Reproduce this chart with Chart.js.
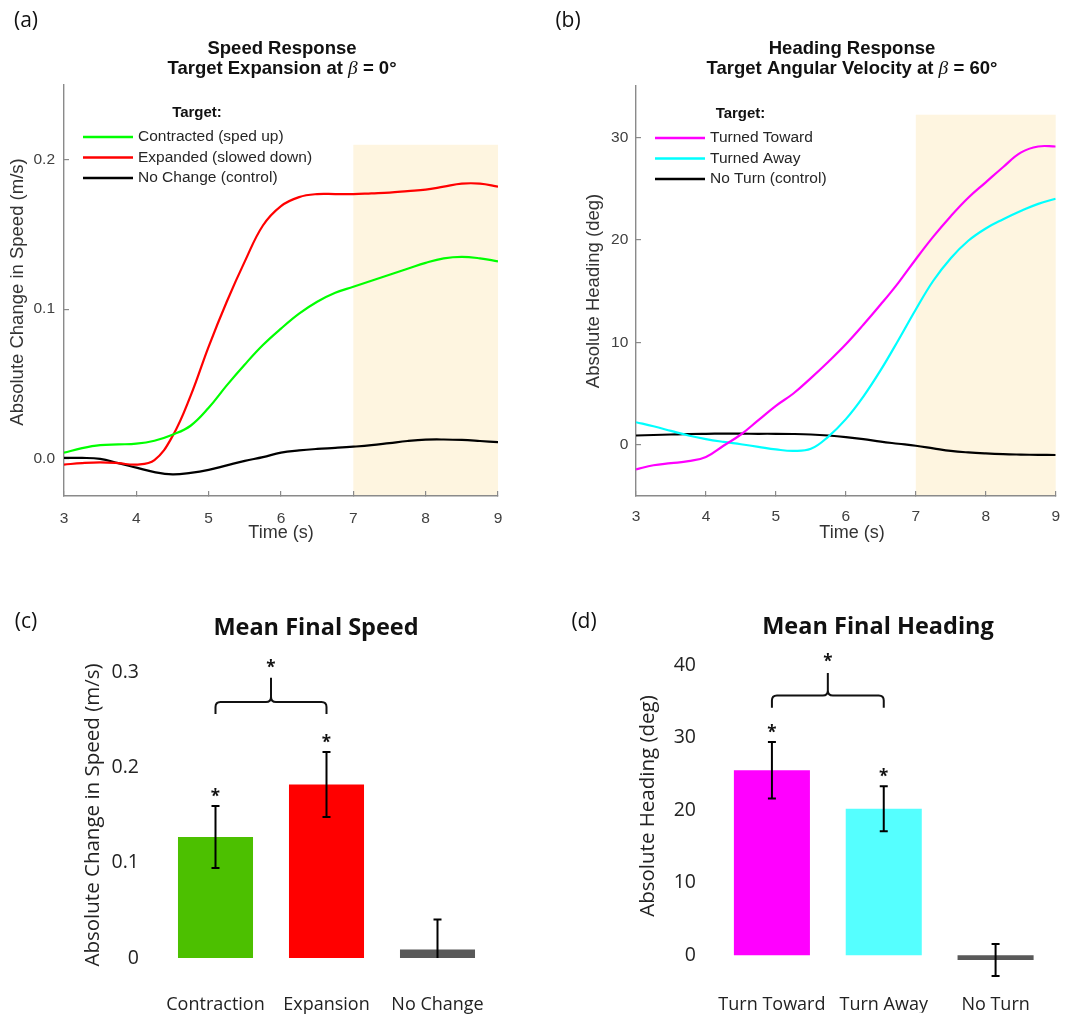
<!DOCTYPE html>
<html>
<head>
<meta charset="utf-8">
<script src="https://cdn.jsdelivr.net/npm/chart.js@4.4.1/dist/chart.umd.min.js"></script>
<style>
  html, body { margin: 0; padding: 0; background: #fff; }
  #wrap { position: relative; width: 1076px; height: 1016px; overflow: hidden; }
  canvas { position: absolute; }
</style>
</head>
<body>
<div id="wrap">
  <canvas id="chartA" width="538" height="545" style="left:0;top:0"></canvas>
  <canvas id="chartB" width="538" height="545" style="left:538px;top:0"></canvas>
  <canvas id="chartC" width="538" height="471" style="left:0;top:545px"></canvas>
  <canvas id="chartD" width="538" height="471" style="left:538px;top:545px"></canvas>
</div>
<script>
// ---------- DATA ----------
const timeS = [3, 3.25, 3.5, 3.75, 4, 4.25, 4.5, 4.75, 5, 5.25, 5.5, 5.75, 6, 6.25, 6.5, 6.75, 7, 7.25, 7.5, 7.75, 8, 8.25, 8.5, 8.75, 9];
const timeTicks = [3, 4, 5, 6, 7, 8, 9];

const speedNames = ["Contracted (sped up)", "Expanded (slowed down)", "No Change (control)"];
const speedContracted = [0.004, 0.007, 0.009, 0.0095, 0.010, 0.012, 0.016, 0.022, 0.034, 0.049, 0.063, 0.076, 0.087, 0.097, 0.105, 0.111, 0.115, 0.119, 0.123, 0.127, 0.131, 0.134, 0.135, 0.134, 0.132];
const speedExpanded = [-0.004, -0.003, -0.0025, -0.003, -0.004, -0.001, 0.015, 0.042, 0.075, 0.105, 0.132, 0.156, 0.169, 0.175, 0.177, 0.177, 0.177, 0.1775, 0.178, 0.179, 0.180, 0.182, 0.184, 0.184, 0.182];
const speedNoChange = [0.0005, 0.0005, -0.0002, -0.003, -0.006, -0.009, -0.0105, -0.0095, -0.0075, -0.0045, -0.0015, 0.001, 0.004, 0.0055, 0.0065, 0.0072, 0.008, 0.009, 0.0104, 0.0118, 0.0127, 0.0128, 0.0125, 0.0118, 0.011];
const speedTicks = [0, 0.1, 0.2];
const speedTickLabels = ["0.0", "0.1", "0.2"];

const headingNames = ["Turned Toward", "Turned Away", "No Turn (control)"];
const headingToward = [-2.4, -2.0, -1.8, -1.6, -1.2, -0.1, 1.0, 2.4, 3.8, 5.0, 6.5, 8.1, 9.8, 11.7, 13.7, 15.8, 18.1, 20.3, 22.3, 24.1, 25.6, 27.1, 28.5, 29.1, 29.1];
const headingAway = [2.2, 1.8, 1.35, 0.9, 0.55, 0.28, 0.05, -0.2, -0.45, -0.6, -0.4, 0.8, 2.5, 4.7, 7.3, 10.2, 13.2, 16.0, 18.2, 19.9, 21.1, 22.0, 22.8, 23.5, 24.0];
const headingNoTurn = [0.9, 0.95, 1.0, 1.05, 1.07, 1.08, 1.08, 1.07, 1.07, 1.05, 1.0, 0.9, 0.75, 0.55, 0.3, 0.1, -0.1, -0.35, -0.6, -0.75, -0.85, -0.92, -0.96, -0.99, -1.0];
const headingTicks = [0, 10, 20, 30];

// analysis window (shaded)
const windowStart = 7;
const windowEnd = 9;
const speedWindowTop = 0.21;
const headingWindowTop = 32.2;

const finalSpeedCats = ["Contraction", "Expansion", "No Change"];
const finalSpeedMeans = [0.127, 0.182, 0.009];
const finalSpeedErr = [0.0325, 0.034, 0.0315];
const finalSpeedTicks = [0, 0.1, 0.2, 0.3];
const finalSpeedTickLabels = ["0", "0.1", "0.2", "0.3"];

const finalHeadingCats = ["Turn Toward", "Turn Away", "No Turn"];
const finalHeadingMeans = [25.5, 20.2, -0.65];
const finalHeadingErr = [3.9, 3.1, 2.2];
const finalHeadingTicks = [0, 10, 20, 30, 40];

// significance brackets (value space)
const speedBracket = { from: 0, to: 1, leg: 0.256, line: 0.2686, peak: 0.294, star: 0.3075 };
const headingBracket = { from: 0, to: 1, leg: 34.1, line: 35.8, peak: 38.9, star: 40.8 };

// ---------- STYLE ----------
const SANS = '"Liberation Sans", Arial, sans-serif';
const SERIF = '"Liberation Serif", "Times New Roman", serif';
const OPEN = '"Open Sans", "Noto Sans", sans-serif';
const AXIS_GRAY = "#8a8a8a";

const pts = (xs, ys) => xs.map((x, i) => ({ x, y: ys[i] }));

function drawText(ctx, str, x, y, font, color, align = "center", rot = 0) {
  ctx.save();
  ctx.translate(x, y);
  ctx.rotate(rot);
  ctx.font = font;
  ctx.fillStyle = color;
  ctx.textAlign = align;
  ctx.textBaseline = "middle";
  ctx.fillText(str, 0, 0);
  ctx.restore();
}

// text made of several runs (for the italic beta)
function drawRuns(ctx, runs, cx, y, color) {
  ctx.save();
  ctx.textBaseline = "middle";
  ctx.fillStyle = color;
  let total = 0;
  runs.forEach(r => { ctx.font = r.font; total += ctx.measureText(r.text).width; });
  let x = cx - total / 2;
  runs.forEach(r => {
    ctx.font = r.font;
    ctx.textAlign = "left";
    ctx.fillText(r.text, x, y);
    x += ctx.measureText(r.text).width;
  });
  ctx.restore();
}

// ---------- PLUGINS ----------
const shadePlugin = {
  id: "shade",
  beforeDraw(chart, args, o) {
    const { ctx, scales: { x, y } } = chart;
    const x0 = x.getPixelForValue(o.from);
    const x1 = x.getPixelForValue(o.to);
    const y0 = y.getPixelForValue(o.top);
    ctx.save();
    ctx.fillStyle = "rgb(254,245,224)";
    ctx.fillRect(x0, y0, x1 - x0, y.bottom - y0);
    ctx.restore();
  }
};

const lineLegend = {
  id: "lineLegend",
  afterDraw(chart, args, o) {
    const { ctx, chartArea: a } = chart;
    drawText(ctx, "Target:", a.left + o.titleX, a.top + 28, `bold 15px ${SANS}`, "#111");
    chart.data.datasets.forEach((ds, i) => {
      const y = a.top + 52 + i * 20.5;
      ctx.save();
      ctx.strokeStyle = ds.borderColor;
      ctx.lineWidth = 2.5;
      ctx.beginPath();
      ctx.moveTo(a.left + 19, y);
      ctx.lineTo(a.left + 69, y);
      ctx.stroke();
      ctx.restore();
      drawText(ctx, ds.label, a.left + 74, y, `15.5px ${SANS}`, "#262626", "left");
    });
  }
};

const errorBars = {
  id: "errorBars",
  afterDatasetsDraw(chart, args, o) {
    const { ctx, chartArea: a, scales: { y } } = chart;
    const meta = chart.getDatasetMeta(0);
    const vals = chart.data.datasets[0].data;
    ctx.save();
    ctx.beginPath();
    ctx.rect(0, 0, chart.width, a.bottom);
    ctx.clip();
    ctx.strokeStyle = "#000";
    ctx.lineWidth = 2;
    meta.data.forEach((bar, i) => {
      const hi = y.getPixelForValue(vals[i] + o.err[i]);
      const lo = y.getPixelForValue(vals[i] - o.err[i]);
      ctx.beginPath();
      ctx.moveTo(bar.x, hi); ctx.lineTo(bar.x, lo);
      ctx.moveTo(bar.x - 4, hi); ctx.lineTo(bar.x + 4, hi);
      ctx.moveTo(bar.x - 4, lo); ctx.lineTo(bar.x + 4, lo);
      ctx.stroke();
    });
    ctx.restore();

    const starFont = `bold 17px ${OPEN}`;
    o.stars.forEach(i => {
      const hi = y.getPixelForValue(vals[i] + o.err[i]);
      drawText(ctx, "*", meta.data[i].x, hi - 9, starFont, "#111");
    });

    const b = o.bracket;
    const x0 = meta.data[b.from].x, x1 = meta.data[b.to].x, xm = (x0 + x1) / 2;
    const yl = y.getPixelForValue(b.line), yg = y.getPixelForValue(b.leg), yp = y.getPixelForValue(b.peak);
    const r = 5;
    ctx.save();
    ctx.strokeStyle = "#111";
    ctx.lineWidth = 2;
    ctx.beginPath();
    ctx.moveTo(x0, yg);
    ctx.lineTo(x0, yl + r);
    ctx.quadraticCurveTo(x0, yl, x0 + r, yl);
    ctx.lineTo(xm - r, yl);
    ctx.quadraticCurveTo(xm, yl, xm, yl - r);
    ctx.lineTo(xm, yp);
    ctx.moveTo(xm, yl - r);
    ctx.quadraticCurveTo(xm, yl, xm + r, yl);
    ctx.lineTo(x1 - r, yl);
    ctx.quadraticCurveTo(x1, yl, x1, yl + r);
    ctx.lineTo(x1, yg);
    ctx.stroke();
    ctx.restore();
    drawText(ctx, "*", xm, y.getPixelForValue(b.star) + 3, starFont, "#111");
  }
};

// static labels: titles, axis titles, panel letters
const overlay = {
  id: "overlay",
  afterDraw(chart, args, o) {
    const { ctx } = chart;
    o.texts.forEach(t => {
      if (t.runs) drawRuns(ctx, t.runs, t.x, t.y, t.color || "#111");
      else drawText(ctx, t.text, t.x, t.y, t.font, t.color || "#111", t.align || "center", t.rot || 0);
    });
  }
};

function timeAxis(padding) {
  return {
    type: "linear", min: 3, max: 9,
    afterBuildTicks: s => { s.ticks = timeTicks.map(v => ({ value: v })); },
    afterFit: s => { s.height = 49; },
    grid: { drawOnChartArea: false, tickLength: -5, color: AXIS_GRAY, lineWidth: 1.2 },
    border: { color: AXIS_GRAY, width: 1.4 },
    ticks: { padding, maxRotation: 0, font: { family: SANS, size: 15.5 }, color: "#404040" }
  };
}

const lineBase = {
  responsive: false,
  animation: false,
  elements: { point: { radius: 0 }, line: { borderWidth: 2.2, tension: 0.4 } },
  events: []
};

// ---------- (a) SPEED RESPONSE ----------
new Chart(document.getElementById("chartA"), {
  type: "line",
  data: {
    datasets: [
      { label: speedNames[0], data: pts(timeS, speedContracted), borderColor: "#00ff00" },
      { label: speedNames[1], data: pts(timeS, speedExpanded), borderColor: "#ff0000" },
      { label: speedNames[2], data: pts(timeS, speedNoChange), borderColor: "#000000" }
    ]
  },
  options: {
    ...lineBase,
    layout: { padding: { left: 0, top: 85, right: 40, bottom: 0 } },
    plugins: {
      legend: { display: false },
      tooltip: { enabled: false },
      shade: { from: windowStart, to: windowEnd, top: speedWindowTop },
      lineLegend: { titleX: 133 },
      overlay: {
        texts: [
          { text: "(a)", x: 26, y: 21, font: `21px ${OPEN}` },
          { text: "Speed Response", x: 282, y: 49, font: `bold 18.5px ${SANS}` },
          { runs: [
              { text: "Target Expansion at ", font: `bold 18.5px ${SANS}` },
              { text: "β", font: `italic 19.5px ${SERIF}` },
              { text: " = 0°", font: `bold 18.5px ${SANS}` }
            ], x: 282, y: 69 },
          { text: "Absolute Change in Speed (m/s)", x: 18, y: 292, font: `18.5px ${SANS}`, color: "#333", rot: -Math.PI / 2 },
          { text: "Time (s)", x: 281, y: 533, font: `18px ${SANS}`, color: "#333" }
        ]
      }
    },
    scales: {
      x: timeAxis(18),
      y: {
        min: -0.025, max: 0.25,
        afterBuildTicks: s => { s.ticks = speedTicks.map(v => ({ value: v })); },
        afterFit: s => { s.width = 64; },
        grid: { drawOnChartArea: false, tickLength: -5, color: AXIS_GRAY, lineWidth: 1.2 },
        border: { color: AXIS_GRAY, width: 1.4 },
        ticks: { padding: 14, font: { family: SANS, size: 15.5 }, color: "#404040",
                 callback: (v, i) => speedTickLabels[i] }
      }
    }
  },
  plugins: [shadePlugin, lineLegend, overlay]
});

// ---------- (b) HEADING RESPONSE ----------
new Chart(document.getElementById("chartB"), {
  type: "line",
  data: {
    datasets: [
      { label: headingNames[0], data: pts(timeS, headingToward), borderColor: "#ff00ff" },
      { label: headingNames[1], data: pts(timeS, headingAway), borderColor: "#00ffff" },
      { label: headingNames[2], data: pts(timeS, headingNoTurn), borderColor: "#000000" }
    ]
  },
  options: {
    ...lineBase,
    layout: { padding: { left: 0, top: 86, right: 8, bottom: 0 } },
    plugins: {
      legend: { display: false },
      tooltip: { enabled: false },
      shade: { from: windowStart, to: windowEnd, top: headingWindowTop },
      lineLegend: { titleX: 104.5 },
      overlay: {
        texts: [
          { text: "(b)", x: 30, y: 21, font: `21px ${OPEN}` },
          { text: "Heading Response", x: 314, y: 49, font: `bold 18.5px ${SANS}` },
          { runs: [
              { text: "Target Angular Velocity at ", font: `bold 18.5px ${SANS}` },
              { text: "β", font: `italic 19.5px ${SERIF}` },
              { text: " = 60°", font: `bold 18.5px ${SANS}` }
            ], x: 314, y: 69 },
          { text: "Absolute Heading (deg)", x: 56, y: 291, font: `18.5px ${SANS}`, color: "#333", rot: -Math.PI / 2 },
          { text: "Time (s)", x: 314, y: 533, font: `18px ${SANS}`, color: "#333" }
        ]
      }
    },
    scales: {
      x: timeAxis(16),
      y: {
        min: -5, max: 35,
        afterBuildTicks: s => { s.ticks = headingTicks.map(v => ({ value: v })); },
        afterFit: s => { s.width = 98; },
        grid: { drawOnChartArea: false, tickLength: -5, color: AXIS_GRAY, lineWidth: 1.2 },
        border: { color: AXIS_GRAY, width: 1.4 },
        ticks: { padding: 12.7, font: { family: SANS, size: 15.5 }, color: "#404040" }
      }
    }
  },
  plugins: [shadePlugin, lineLegend, overlay]
});

// ---------- (c) MEAN FINAL SPEED ----------
new Chart(document.getElementById("chartC"), {
  type: "bar",
  data: {
    labels: finalSpeedCats,
    datasets: [{
      data: finalSpeedMeans,
      backgroundColor: ["#4cc000", "#ff0000", "#595959"],
      borderWidth: 0, barPercentage: 0.676, categoryPercentage: 1
    }]
  },
  options: {
    responsive: false, animation: false, events: [],
    layout: { padding: { left: 0, top: 127, right: 45, bottom: 0 } },
    plugins: {
      legend: { display: false },
      tooltip: { enabled: false },
      errorBars: { err: finalSpeedErr, stars: [0, 1], bracket: speedBracket },
      overlay: {
        texts: [
          { text: "(c)", x: 26, y: 77, font: `21px ${OPEN}` },
          { text: "Mean Final Speed", x: 316, y: 83, font: `bold 23.5px ${OPEN}` },
          { text: "Absolute Change in Speed (m/s)", x: 93, y: 270, font: `20.5px ${OPEN}`, color: "#222", rot: -Math.PI / 2 }
        ]
      }
    },
    scales: {
      x: {
        afterFit: s => { s.height = 58; },
        grid: { display: false, drawTicks: false },
        border: { display: false },
        ticks: { padding: 36.5, maxRotation: 0, minRotation: 0, autoSkip: false, font: { family: OPEN, size: 18 }, color: "#222" }
      },
      y: {
        min: 0, max: 0.3,
        afterBuildTicks: s => { s.ticks = finalSpeedTicks.map(v => ({ value: v })); },
        afterFit: s => { s.width = 160; },
        grid: { display: false, drawTicks: false },
        border: { display: false },
        ticks: { padding: 21, font: { family: OPEN, size: 19.5 }, color: "#222",
                 callback: (v, i) => finalSpeedTickLabels[i] }
      }
    }
  },
  plugins: [errorBars, overlay]
});

// ---------- (d) MEAN FINAL HEADING ----------
new Chart(document.getElementById("chartD"), {
  type: "bar",
  data: {
    labels: finalHeadingCats,
    datasets: [{
      data: finalHeadingMeans,
      backgroundColor: ["#ff00ff", "#55ffff", "#595959"],
      borderWidth: 0, barPercentage: 0.68, categoryPercentage: 1
    }]
  },
  options: {
    responsive: false, animation: false, events: [],
    layout: { padding: { left: 0, top: 120, right: 24.5, bottom: 0 } },
    plugins: {
      legend: { display: false },
      tooltip: { enabled: false },
      errorBars: { err: finalHeadingErr, stars: [0, 1], bracket: headingBracket },
      overlay: {
        texts: [
          { text: "(d)", x: 46, y: 77, font: `21px ${OPEN}` },
          { text: "Mean Final Heading", x: 340, y: 82, font: `bold 23.5px ${OPEN}` },
          { text: "Absolute Heading (deg)", x: 110, y: 261, font: `20.5px ${OPEN}`, color: "#222", rot: -Math.PI / 2 }
        ]
      }
    },
    scales: {
      x: {
        afterFit: s => { s.height = 28.4; },
        grid: { display: false, drawTicks: false },
        border: { display: false },
        ticks: { padding: 9.9, maxRotation: 0, minRotation: 0, autoSkip: false, font: { family: OPEN, size: 18 }, color: "#222" }
      },
      y: {
        min: -4, max: 40,
        afterBuildTicks: s => { s.ticks = finalHeadingTicks.map(v => ({ value: v })); },
        afterFit: s => { s.width = 178; },
        grid: { display: false, drawTicks: false },
        border: { display: false },
        ticks: { padding: 20, font: { family: OPEN, size: 19.5 }, color: "#222" }
      }
    }
  },
  plugins: [errorBars, overlay]
});
</script>
</body>
</html>
